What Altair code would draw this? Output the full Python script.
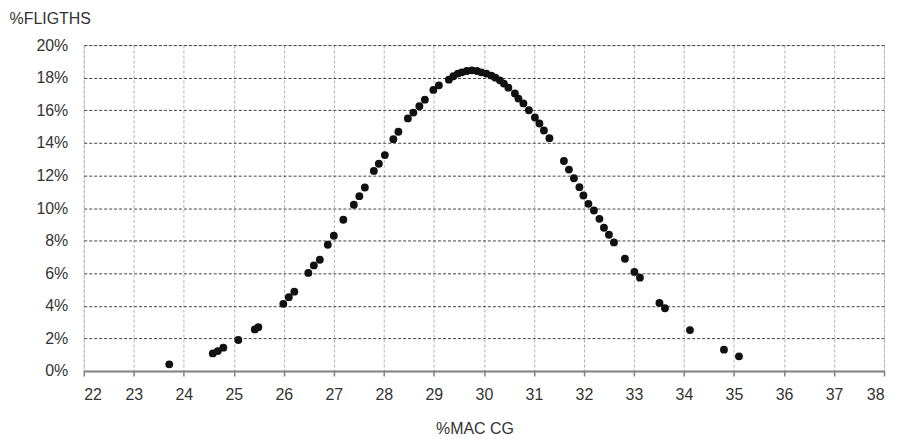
import altair as alt
import pandas as pd

mac_cg = [23.71, 24.58, 24.68, 24.79, 25.09, 25.42, 25.49, 25.99, 26.10, 26.21,
          26.49, 26.60, 26.72, 26.88, 27.00, 27.19, 27.40, 27.51, 27.62, 27.80,
          27.90, 28.02, 28.19, 28.29, 28.48, 28.59, 28.71, 28.82, 28.99, 29.10,
          29.30, 29.39, 29.48, 29.56, 29.66, 29.76, 29.86, 29.95, 30.05, 30.15,
          30.23, 30.32, 30.40, 30.49, 30.62, 30.69, 30.79, 30.90, 31.02, 31.11,
          31.20, 31.31, 31.60, 31.70, 31.80, 31.91, 31.99, 32.09, 32.20, 32.31,
          32.40, 32.50, 32.60, 32.82, 33.01, 33.12, 33.51, 33.62, 34.12, 34.80,
          35.10]
flights_pct = [0.41, 1.08, 1.22, 1.43, 1.90, 2.55, 2.69, 4.12, 4.53, 4.87,
               6.02, 6.48, 6.83, 7.75, 8.30, 9.28, 10.20, 10.73, 11.26, 12.28,
               12.72, 13.25, 14.23, 14.68, 15.50, 15.86, 16.25, 16.65, 17.25, 17.53,
               17.88, 18.09, 18.25, 18.33, 18.41, 18.45, 18.41, 18.33, 18.25, 18.13,
               18.00, 17.84, 17.64, 17.39, 17.03, 16.72, 16.42, 16.00, 15.56, 15.19,
               14.76, 14.29, 12.89, 12.36, 11.83, 11.28, 10.77, 10.26, 9.85, 9.34,
               8.79, 8.36, 7.89, 6.89, 6.08, 5.73, 4.18, 3.85, 2.51, 1.31,
               0.90]
x_ticks = list(range(22, 39))
y_ticks = [0, 0.02, 0.04, 0.06, 0.08, 0.10, 0.12, 0.14, 0.16, 0.18, 0.20]

df = pd.DataFrame({"mac": mac_cg, "fl": [v / 100 for v in flights_pct]})

FONT = "Liberation Sans"
TXT = "#333333"

chart = alt.Chart(df).mark_circle(size=62, color="#111111", opacity=1).encode(
    x=alt.X("mac:Q",
            scale=alt.Scale(domain=[22, 38], nice=False, zero=False),
            axis=alt.Axis(values=x_ticks, title="%MAC CG", format="d",
                          grid=True, gridColor="#b0b0b0", gridDash=[3, 2], gridWidth=1,
                          domainColor="#808080", domainWidth=2,
                          tickColor="#808080", tickSize=5, tickWidth=1.5,
                          labelFont=FONT, labelFontSize=16, labelColor=TXT,
                          labelPadding=11,
                          titleFont=FONT, titleFontSize=16, titleColor=TXT,
                          titleFontWeight="normal", titleX=392, titleY=63,
                          titleAlign="center", titleBaseline="alphabetic")),
    y=alt.Y("fl:Q",
            scale=alt.Scale(domain=[0, 0.2], nice=False),
            axis=alt.Axis(values=y_ticks, title="%FLIGTHS", format=".0%",
                          grid=True, gridColor="#404040", gridDash=[3, 2], gridWidth=1,
                          domain=False, ticks=False, tickSize=0,
                          labelFont=FONT, labelFontSize=16, labelColor=TXT,
                          labelPadding=16,
                          titleFont=FONT, titleFontSize=16, titleColor=TXT,
                          titleFontWeight="normal", titleAngle=0,
                          titleAlign="left", titleBaseline="alphabetic",
                          titleX=-75, titleY=-22)),
).properties(
    width=803, height=327,
    autosize=alt.AutoSizeParams(type="none"),
    padding={"left": 76, "top": 36.5, "right": 8, "bottom": 68},
).configure_view(stroke=None).configure(background="white")

chart.save("out.html", embed_options={"renderer": "svg", "actions": False})
